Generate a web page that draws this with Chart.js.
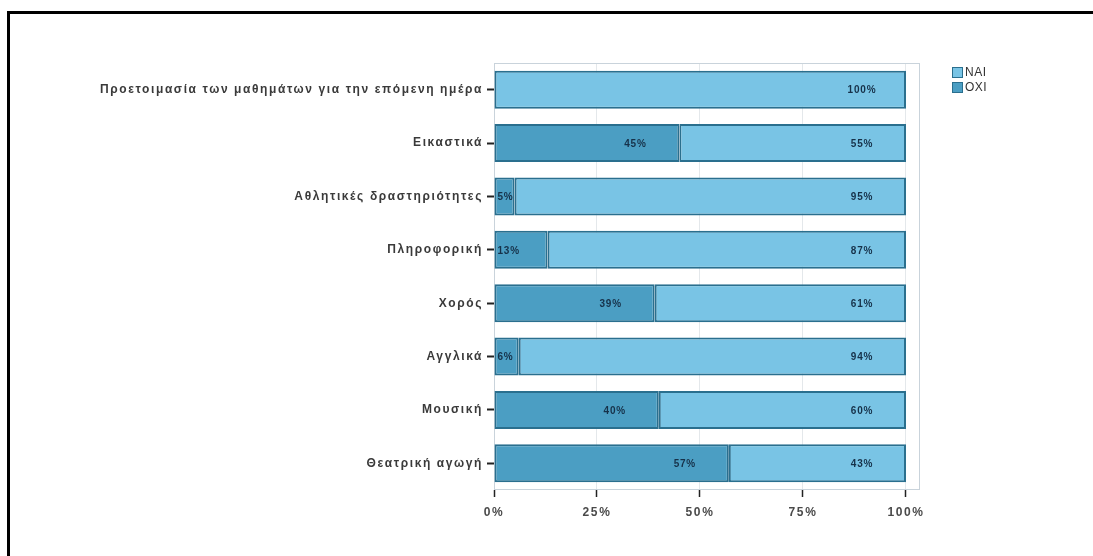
<!DOCTYPE html>
<html lang="el">
<head>
  <meta charset="UTF-8" />
  <title>ΝΑΙ / ΟΧΙ ανά δραστηριότητα</title>
  <script src="https://cdn.jsdelivr.net/npm/chart.js"></script>
  <style>
    html, body {
      margin: 0;
      padding: 0;
      background: #ffffff;
      overflow: hidden;
    }

    .wrap {
      position: relative;
      width: 1093px;
      height: 556px;
    }

    /* black frame, only top and left edges show */
    .frame {
      position: absolute;
      left: 7px;
      top: 11px;
      right: -10px;
      bottom: -10px;
      border-top: 3px solid #000;
      border-left: 3px solid #000;
      pointer-events: none;
    }
  </style>
</head>
<body>
  <div class="wrap">
    <canvas id="activityChart" width="1093" height="556"></canvas>
    <div class="frame"></div>
  </div>

  <script>
    // data
    const categories = [
      'Προετοιμασία των μαθημάτων για την επόμενη ημέρα',
      'Εικαστικά',
      'Αθλητικές δραστηριότητες',
      'Πληροφορική',
      'Χορός',
      'Αγγλικά',
      'Μουσική',
      'Θεατρική αγωγή'
    ];
    const oxiValues = [0, 45, 5, 13, 39, 6, 40, 57];
    const naiValues = [100, 55, 95, 87, 61, 94, 60, 43];
    const xTickValues = [0, 25, 50, 75, 100];

    const naiColor = '#79c4e5';
    const oxiColor = '#4b9ec3';
    const barBorder = '#2a6f8e';

    // the axis text in the picture is a little spread out
    const spacingPlugin = {
      id: 'spacing',
      beforeUpdate(chart) { chart.ctx.letterSpacing = '1.6px'; },
      beforeDraw(chart) { chart.ctx.letterSpacing = '1.6px'; }
    };

    // light box round the plot area
    const plotBox = {
      id: 'plotBox',
      beforeDatasetsDraw(chart) {
        const { ctx, chartArea: a } = chart;
        ctx.save();
        ctx.strokeStyle = '#c9d3db';
        ctx.lineWidth = 1;
        ctx.strokeRect(a.left + 0.5, a.top + 0.5, a.right - a.left - 1, a.bottom - a.top - 1);
        ctx.restore();
      }
    };

    // percent labels near the end of each segment
    const valueLabels = {
      id: 'valueLabels',
      afterDatasetsDraw(chart) {
        const ctx = chart.ctx;
        ctx.save();
        ctx.letterSpacing = '0.8px';
        ctx.font = 'bold 10px "Liberation Sans", Arial, sans-serif';
        ctx.fillStyle = '#163149';
        ctx.textAlign = 'center';
        ctx.textBaseline = 'middle';
        chart.data.datasets.forEach((ds, i) => {
          const meta = chart.getDatasetMeta(i);
          meta.data.forEach((bar, j) => {
            const v = ds.data[j];
            if (!v) return;
            const txt = v + '%';
            const w = ctx.measureText(txt).width;
            const start = Math.min(bar.base, bar.x);
            const end = Math.max(bar.base, bar.x);
            const cx = Math.max(end - 44, start + w / 2 + 3);
            ctx.fillText(txt, cx, bar.y + 1);
          });
        });
        ctx.restore();
      }
    };

    // legend at the top right, NAI above OXI
    const sideLegend = {
      id: 'sideLegend',
      afterDraw(chart) {
        const ctx = chart.ctx;
        const items = chart.data.datasets.slice().reverse();
        ctx.save();
        ctx.letterSpacing = '0.5px';
        ctx.font = '12px "Liberation Sans", Arial, sans-serif';
        ctx.textBaseline = 'middle';
        ctx.textAlign = 'left';
        items.forEach((ds, k) => {
          const x = 952, y = 67 + k * 15;
          ctx.fillStyle = ds.backgroundColor;
          ctx.strokeStyle = ds.borderColor;
          ctx.lineWidth = 1;
          ctx.fillRect(x + 0.5, y + 0.5, 10, 10);
          ctx.strokeRect(x + 0.5, y + 0.5, 10, 10);
          ctx.fillStyle = '#333';
          ctx.fillText(ds.label, x + 13, y + 6);
        });
        ctx.restore();
      }
    };

    const tickFont = { family: '"Liberation Sans", Arial, sans-serif', size: 12, weight: 'bold' };

    const ctx = document.getElementById('activityChart').getContext('2d');
    new Chart(ctx, {
      type: 'bar',
      data: {
        labels: categories,
        datasets: [
          {
            label: 'OXI',
            data: oxiValues,
            backgroundColor: oxiColor,
            borderColor: barBorder,
            borderWidth: 2,
            borderSkipped: false
          },
          {
            label: 'NAI',
            data: naiValues,
            backgroundColor: naiColor,
            borderColor: barBorder,
            borderWidth: 2,
            borderSkipped: false
          }
        ]
      },
      options: {
        indexAxis: 'y',
        responsive: false,
        animation: false,
        barPercentage: 0.71,
        categoryPercentage: 1.0,
        layout: { padding: { top: 63, right: 173, bottom: 0, left: 0 } },
        plugins: {
          legend: { display: false },
          tooltip: { enabled: false }
        },
        scales: {
          x: {
            stacked: true,
            min: 0,
            max: 103.4,
            afterBuildTicks(scale) {
              scale.ticks = xTickValues.map(v => ({ value: v }));
            },
            afterFit(scale) { scale.height = 66; },
            border: { display: false },
            grid: {
              color: '#e4e8eb',
              tickColor: '#222',
              tickWidth: 1.5,
              tickLength: 7,
              drawTicks: true
            },
            ticks: {
              font: tickFont,
              color: '#4a4a4a',
              padding: 8,
              maxRotation: 0,
              callback: v => v + '%'
            }
          },
          y: {
            stacked: true,
            afterFit(scale) { scale.width = 494; },
            border: { display: false },
            grid: {
              offset: false,
              drawOnChartArea: false,
              tickColor: '#222',
              tickWidth: 2,
              tickLength: 7
            },
            ticks: {
              font: tickFont,
              color: '#3a3a3a',
              padding: 4
            }
          }
        }
      },
      plugins: [spacingPlugin, plotBox, valueLabels, sideLegend]
    });
  </script>
</body>
</html>
